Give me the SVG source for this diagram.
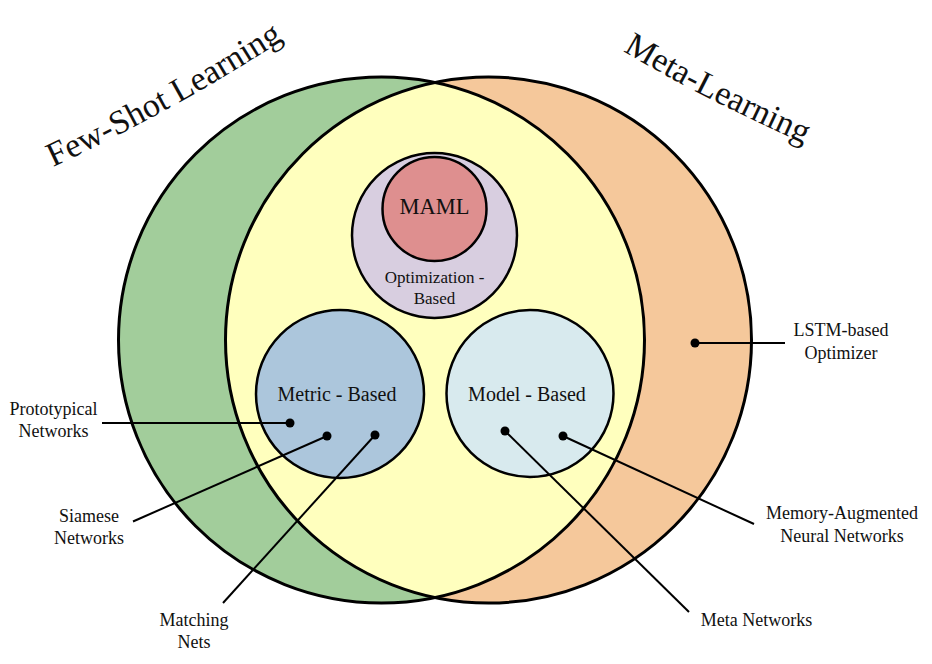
<svg xmlns="http://www.w3.org/2000/svg" width="932" height="664" viewBox="0 0 932 664">
<style>
.big{stroke:#000;stroke-width:3;fill:none}
.inner{stroke:#000;stroke-width:2.5}
.conn line{stroke:#000;stroke-width:2}
.conn circle{fill:#000}
text{font-family:"Liberation Serif","Times New Roman",serif;fill:#111}
.lbl{font-size:18px;text-anchor:middle}
.title{font-size:34px}
</style>
<defs>
<path id="pFew" d="M 53,167 Q 175,110 283,40"/>
<path id="pMeta" d="M 623,51 Q 700,97 805,144"/>
</defs>
<rect width="932" height="664" fill="#fff"/>
<g id="few-shot">
<circle cx="381.5" cy="340" r="263" fill="#a2cd9b"/>
</g>
<g id="meta-learning">
<circle cx="488.5" cy="340" r="263" fill="#f5c89b"/>
</g>
<g id="overlap">
<path d="M 435,82.5 A 263,263 0 0,1 435,597.5 A 263,263 0 0,1 435,82.5 Z" fill="#ffffbe"/>
</g>
<g id="outlines">
<circle class="big" cx="381.5" cy="340" r="263"/>
<circle class="big" cx="488.5" cy="340" r="263"/>
</g>
<g id="titles">
<text class="title"><textPath href="#pFew">Few-Shot Learning</textPath></text>
<text class="title"><textPath href="#pMeta">Meta-Learning</textPath></text>
</g>
<g id="optimization">
<circle class="inner" cx="434.5" cy="235.5" r="82.5" fill="#d8cee0"/>
<text x="434.5" y="282.5" font-size="17" text-anchor="middle">Optimization -</text>
<text x="434.5" y="304" font-size="17" text-anchor="middle">Based</text>
</g>
<g id="maml">
<circle class="inner" cx="434.5" cy="209" r="52" fill="#de8f8f"/>
<text x="434.5" y="214" font-size="22.5" text-anchor="middle">MAML</text>
</g>
<g id="metric">
<circle class="inner" cx="340" cy="394" r="84" fill="#acc6dc"/>
<text x="337" y="401" font-size="20" text-anchor="middle">Metric - Based</text>
</g>
<g id="model">
<circle class="inner" cx="530" cy="393.5" r="83.5" fill="#d8eaee"/>
<text x="527" y="400.5" font-size="20" text-anchor="middle">Model - Based</text>
</g>
<g id="connectors" class="conn">
<line x1="102" y1="423" x2="290" y2="423"/><circle cx="290" cy="423" r="4.5"/>
<line x1="133" y1="521.5" x2="327" y2="436"/><circle cx="327" cy="436" r="4.5"/>
<line x1="223" y1="603" x2="375" y2="435"/><circle cx="375" cy="435" r="4.5"/>
<line x1="505" y1="431" x2="689" y2="612"/><circle cx="505" cy="431" r="4.5"/>
<line x1="563" y1="436" x2="754" y2="524"/><circle cx="563" cy="436" r="4.5"/>
<line x1="695" y1="343" x2="785" y2="343"/><circle cx="695" cy="343" r="4.5"/>
</g>
<g id="label-prototypical">
<text class="lbl" x="53.5" y="415">Prototypical</text>
<text class="lbl" x="53.5" y="437">Networks</text>
</g>
<g id="label-siamese">
<text class="lbl" x="89" y="522">Siamese</text>
<text class="lbl" x="89" y="544">Networks</text>
</g>
<g id="label-matching">
<text class="lbl" x="194" y="626">Matching</text>
<text class="lbl" x="194" y="648">Nets</text>
</g>
<g id="label-lstm">
<text class="lbl" x="841" y="336">LSTM-based</text>
<text class="lbl" x="841" y="359">Optimizer</text>
</g>
<g id="label-mann">
<text class="lbl" x="842" y="519">Memory-Augmented</text>
<text class="lbl" x="842" y="541.5">Neural Networks</text>
</g>
<g id="label-meta-networks">
<text class="lbl" x="756.5" y="626">Meta Networks</text>
</g>
</svg>
